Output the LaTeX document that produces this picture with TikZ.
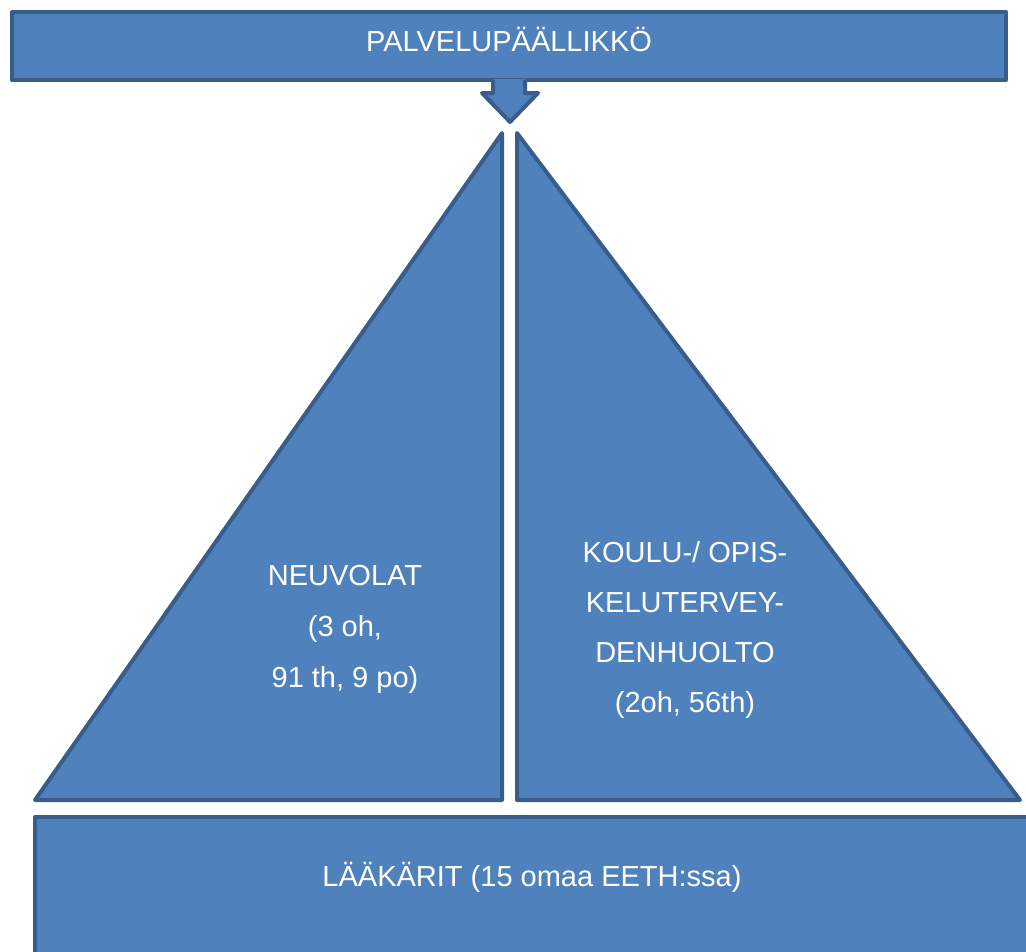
\documentclass[tikz,border=0pt]{standalone}
\usepackage{fontspec}
\setmainfont{Liberation Sans}
\usetikzlibrary{positioning, calc}
\definecolor{orgfill}{RGB}{79,129,189}
\definecolor{orgline}{RGB}{56,93,138}
\tikzset{
  block/.style   = {draw=orgline, fill=orgfill, line width=3pt, line join=round},
  blocktxt/.style = {text=white, anchor=base, inner sep=0pt,
                     font=\fontsize{21.75}{26}\selectfont},
}

\begin{document}
\begin{tikzpicture}[x=0.75pt, y=-0.75pt]
  \useasboundingbox (0,0) rectangle (1026,951);
  \clip (0,0) rectangle (1026,951);
  % head
  \node[block, rectangle, minimum width=745.5pt, minimum height=51pt, inner sep=0pt]
    (boss) at (509,46) {};
  \node[blocktxt] (bosstxt) at (509,51) {PALVELUPÄÄLLIKKÖ};
  % down arrow
  \coordinate (tip) at (510,122);
  \fill[orgfill] (493,79) -- (493,93) -- (482,93) -- (tip) -- (538,93) -- (525,93) -- (525,79) -- cycle;
  \draw[orgline, line width=3pt, line join=round]
    (493,80) -- (493,93) -- (482,93) -- (tip) -- (538,93) -- (525,93) -- (525,80);
  % two triangles
  \draw[block] (502,133) -- (502,800) -- (35,800) -- cycle;
  \draw[block] (517,133) -- (517,800) -- (1020,800) -- cycle;
  \foreach \i/\y/\txt in {1/585/NEUVOLAT, 2/636/{(3 oh,}, 3/687/{91 th, 9 po)}} {
    \node[blocktxt] (neu\i) at (345,\y) {\txt};
  }
  \foreach \i/\y/\txt in {1/562/{KOULU-/ OPIS-}, 2/612/KELUTERVEY-, 3/662/DENHUOLTO, 4/712/{(2oh, 56th)}} {
    \node[blocktxt] (kou\i) at (685,\y) {\txt};
  }
  % base
  \draw[block] (35,817) rectangle (1031,1000);
  \node[blocktxt] (laak) at (532,886) {LÄÄKÄRIT (15 omaa EETH:ssa)};
\end{tikzpicture}
\end{document}
